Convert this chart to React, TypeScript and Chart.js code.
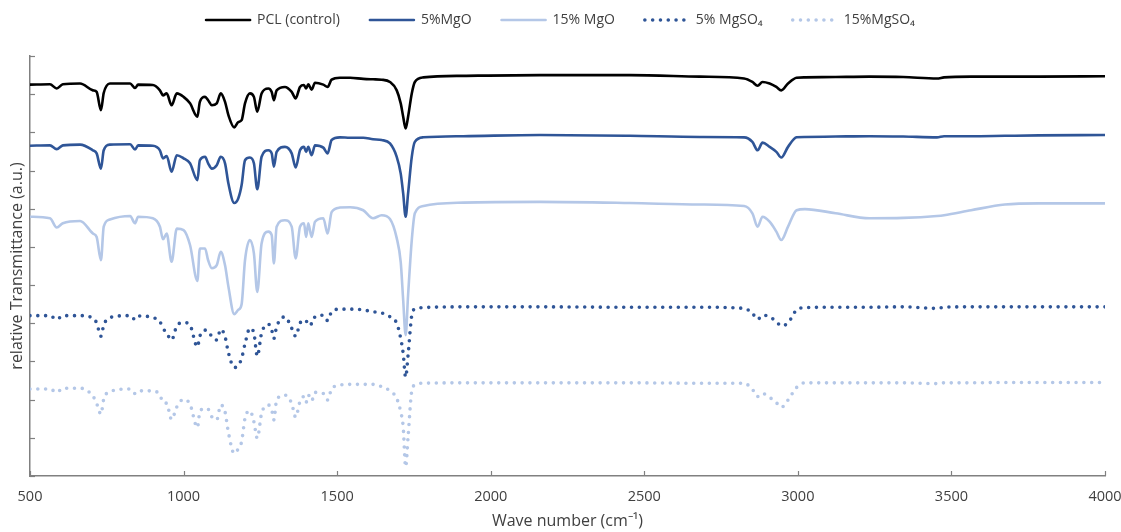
import React, { useEffect, useRef } from 'react';
import { Chart, registerables } from 'chart.js';

Chart.register(...registerables);

// ---- data ----
const WAVENUMBERS = [
  500, 565, 587, 607, 663, 705, 717, 731, 740, 760,
  826, 842, 852, 900, 923, 933, 945, 961, 978, 1000,
  1021, 1045, 1053, 1070, 1080, 1092, 1108, 1121, 1135, 1146,
  1165, 1178, 1189, 1200, 1216, 1229, 1240, 1254, 1276, 1287,
  1294, 1303, 1330, 1352, 1365, 1379, 1392, 1399, 1406, 1417,
  1428, 1455, 1469, 1482, 1509, 1542, 1585, 1617, 1645, 1672,
  1694, 1707, 1715, 1723, 1731, 1743, 1753, 1781, 1911, 2160,
  2453, 2681, 2825, 2852, 2869, 2885, 2908, 2930, 2946, 2968,
  2996, 3023, 3123, 3233, 3343, 3453, 3476, 3564, 3674, 3785,
  4000,
];

const PCL_CONTROL = [
  102.5, 102.6, 101.5, 102.6, 102.8, 101.0, 100.6, 95.8, 100.3, 102.8,
  102.8, 101.6, 102.5, 102.4, 101.0, 99.7, 100.2, 97.1, 100.2, 99.3,
  97.6, 94.1, 98.0, 99.3, 98.4, 97.1, 97.6, 100.2, 98.0, 94.5,
  91.3, 92.7, 93.2, 97.6, 100.2, 99.3, 95.4, 100.2, 101.5, 100.6,
  98.4, 101.0, 101.9, 100.6, 98.9, 101.9, 102.4, 101.5, 102.6, 101.2,
  103.0, 102.5, 101.9, 103.8, 104.3, 104.3, 104.0, 103.9, 103.8, 103.2,
  101.0, 97.6, 94.1, 91.0, 94.1, 100.2, 103.2, 104.4, 104.8, 105.0,
  105.0, 104.6, 104.1, 103.2, 102.2, 103.2, 102.8, 101.9, 101.0, 102.8,
  104.3, 104.4, 104.5, 104.6, 104.5, 104.1, 104.4, 104.6, 104.6, 104.6,
  104.7,
];

const MGO_5 = [
  86.5, 86.6, 85.6, 86.6, 86.8, 85.3, 84.5, 80.5, 85.3, 86.8,
  86.9, 85.5, 86.6, 86.5, 85.3, 83.2, 83.8, 79.7, 84.0, 83.2,
  81.9, 77.5, 82.7, 83.6, 81.9, 80.5, 81.4, 83.6, 81.9, 76.6,
  71.5, 72.7, 76.2, 82.7, 83.4, 81.9, 75.1, 83.6, 85.3, 84.5,
  81.0, 84.9, 86.2, 84.5, 80.8, 85.3, 86.2, 84.9, 86.2, 84.0,
  86.6, 86.0, 84.5, 88.0, 88.7, 88.6, 88.6, 88.2, 88.0, 87.1,
  83.6, 79.2, 74.0, 67.9, 74.0, 83.6, 87.5, 88.7, 89.0, 89.3,
  89.1, 88.8, 88.7, 87.5, 85.3, 87.3, 86.2, 84.9, 83.4, 86.2,
  88.7, 88.8, 88.9, 89.0, 88.9, 88.7, 89.0, 89.0, 89.1, 89.2,
  89.3,
];

const MGO_15 = [
  67.9, 67.5, 65.1, 66.2, 66.8, 63.5, 62.6, 56.5, 65.3, 67.2,
  68.1, 66.2, 67.9, 67.5, 65.3, 62.0, 63.5, 56.1, 64.8, 64.4,
  60.5, 51.1, 59.6, 59.6, 56.5, 54.4, 55.2, 58.7, 55.2, 49.6,
  42.4, 43.5, 45.0, 56.5, 61.8, 58.3, 48.2, 60.9, 64.0, 63.1,
  55.7, 65.3, 67.0, 65.3, 57.0, 65.3, 66.2, 62.6, 66.2, 62.6,
  66.6, 67.5, 63.5, 69.1, 70.3, 70.4, 69.6, 67.5, 68.3, 67.3,
  62.3, 56.0, 46.1, 36.9, 47.4, 61.8, 68.8, 70.7, 71.6, 71.8,
  71.5, 71.1, 70.7, 68.8, 65.3, 67.9, 66.6, 64.0, 61.8, 65.3,
  69.6, 69.9, 68.8, 67.5, 67.6, 68.1, 68.3, 69.6, 71.1, 71.4,
  71.4,
];

const MGSO4_5 = [
  42.0, 42.0, 41.0, 42.0, 42.0, 41.3, 40.1, 36.6, 39.5, 41.5,
  42.0, 41.0, 41.9, 41.5, 40.4, 38.7, 37.4, 35.6, 39.3, 40.2,
  39.5, 33.8, 36.6, 38.2, 38.0, 36.5, 35.6, 38.4, 36.5, 32.3,
  28.4, 29.0, 30.8, 34.6, 38.7, 37.4, 31.4, 37.4, 39.8, 38.2,
  36.0, 39.1, 41.7, 38.7, 36.6, 40.0, 40.8, 40.4, 41.0, 39.8,
  41.7, 42.1, 40.7, 43.0, 43.7, 43.7, 43.5, 43.0, 42.7, 41.7,
  40.0, 36.0, 32.1, 25.9, 31.7, 42.1, 43.7, 44.1, 44.3, 44.3,
  44.2, 44.2, 43.9, 42.6, 41.0, 42.1, 41.7, 40.4, 39.3, 40.1,
  43.5, 44.1, 44.2, 44.2, 44.3, 43.9, 44.2, 44.3, 44.3, 44.3,
  44.3,
];

const MGSO4_15 = [
  22.8, 22.8, 21.9, 23.0, 23.0, 20.9, 19.0, 16.2, 20.1, 22.1,
  22.8, 21.6, 22.3, 22.3, 21.2, 19.3, 19.0, 14.8, 18.1, 20.1,
  18.8, 12.7, 16.8, 17.7, 17.5, 15.5, 14.7, 18.6, 16.8, 11.4,
  5.9, 7.1, 9.0, 15.1, 17.1, 14.2, 9.9, 16.4, 18.6, 17.3,
  14.7, 19.9, 21.2, 19.0, 15.4, 19.5, 20.8, 19.3, 21.2, 19.7,
  21.9, 21.6, 19.9, 22.8, 23.8, 24.0, 24.0, 24.0, 23.4, 22.3,
  20.3, 16.8, 12.9, 2.4, 10.3, 22.3, 23.8, 24.3, 24.4, 24.4,
  24.4, 24.3, 24.3, 22.7, 20.8, 21.6, 20.6, 19.2, 18.0, 19.9,
  23.2, 24.4, 24.4, 24.4, 24.4, 24.2, 24.4, 24.4, 24.5, 24.5,
  24.5,
];

const SERIES_LABELS = ['PCL (control)', '5%MgO', '15% MgO', '5% MgSO\u2084', '15%MgSO\u2084'];
const X_MIN = 500;
const X_MAX = 4000;
const X_STEP = 500;
const Y_MIN = 0;
const Y_MAX = 110;
const Y_STEP = 10;
const X_TITLE = 'Wave number (cm\u207B\u00B9)';
const Y_TITLE = 'relative Transmittance (a.u.)';

// ---- styles ----
const FONT = "'Open Sans', 'Liberation Sans', sans-serif";
const TEXT_COLOR = '#404040';
const AXIS_COLOR = '#808080';
const BLACK = '#000000';
const DARK_BLUE = '#2F5597';
const LIGHT_BLUE = '#B4C7E7';

const insideTicks = {
  id: 'insideTicks',
  afterDraw(chart: any) {
    const { ctx, chartArea, scales } = chart;
    const xs = scales.x;
    const ys = scales.y;
    ctx.save();
    ctx.strokeStyle = AXIS_COLOR;
    ctx.lineWidth = 1.2;
    ys.ticks.forEach((t: any) => {
      const py = Math.round(ys.getPixelForValue(t.value)) + 0.5;
      ctx.beginPath();
      ctx.moveTo(chartArea.left, py);
      ctx.lineTo(chartArea.left + 5, py);
      ctx.stroke();
    });
    xs.ticks.forEach((t: any) => {
      const px = Math.round(xs.getPixelForValue(t.value)) + 0.5;
      ctx.beginPath();
      ctx.moveTo(px, chartArea.bottom);
      ctx.lineTo(px, chartArea.bottom - 5);
      ctx.stroke();
    });
    ctx.restore();
  },
};

const legendSpacer = {
  id: 'legendSpacer',
  beforeInit(chart: any) {
    const legend = chart.legend;
    if (!legend) return;
    const orig = legend.fit;
    legend.fit = function () {
      orig.call(this);
      this.height += 19;
    };
  },
};

function makeDataset(label: string, values: number[], color: string, dotted: boolean, idx: number) {
  return {
    label,
    data: WAVENUMBERS.map((x, i) => ({ x, y: values[i] })),
    borderColor: color,
    backgroundColor: color,
    borderWidth: dotted ? 3.6 : 2.6,
    borderDash: dotted ? [0, 7.8] : [],
    borderCapStyle: 'round',
    borderJoinStyle: 'round',
    pointRadius: 0,
    pointHoverRadius: 0,
    fill: false,
    cubicInterpolationMode: 'monotone',
    order: 10 - idx,
  };
}

export default function App() {
  const canvasRef = useRef<HTMLCanvasElement | null>(null);

  useEffect(() => {
    if (!canvasRef.current) return;
    const datasets = [
      makeDataset(SERIES_LABELS[0], PCL_CONTROL, BLACK, false, 0),
      makeDataset(SERIES_LABELS[1], MGO_5, DARK_BLUE, false, 1),
      makeDataset(SERIES_LABELS[2], MGO_15, LIGHT_BLUE, false, 2),
      makeDataset(SERIES_LABELS[3], MGSO4_5, DARK_BLUE, true, 3),
      makeDataset(SERIES_LABELS[4], MGSO4_15, LIGHT_BLUE, true, 4),
    ];
    const chart = new Chart(canvasRef.current, {
      type: 'line',
      data: { datasets } as any,
      plugins: [insideTicks, legendSpacer],
      options: {
        responsive: false,
        animation: false,
        events: [],
        layout: { padding: { top: -17, right: 0, bottom: 0, left: 0 } },
        plugins: {
          legend: {
            display: true,
            position: 'top',
            align: 'center',
            labels: {
              usePointStyle: true,
              pointStyle: 'line',
              pointStyleWidth: 44,
              padding: 30,
              color: TEXT_COLOR,
              font: { family: FONT, size: 14 },
              sort: (a: any, b: any) => a.datasetIndex - b.datasetIndex,
              generateLabels: (ch: any) => {
                const items = (Chart.defaults.plugins.legend.labels as any).generateLabels(ch);
                return items.map((it: any) => {
                  const ds = ch.data.datasets[it.datasetIndex];
                  return {
                    ...it,
                    lineWidth: ds.borderWidth,
                    lineDash: ds.borderDash,
                    lineCap: 'round',
                    strokeStyle: ds.borderColor,
                    fillStyle: ds.borderColor,
                    pointStyle: 'line',
                  };
                });
              },
            },
          },
          tooltip: { enabled: false },
        },
        scales: {
          x: {
            type: 'linear',
            min: X_MIN,
            max: X_MAX,
            ticks: {
              stepSize: X_STEP,
              padding: 12,
              color: TEXT_COLOR,
              font: { family: FONT, size: 14.5 },
              maxRotation: 0,
              autoSkip: false,
              callback: (v: any) => String(v),
            },
            grid: { display: false, drawTicks: false },
            border: { display: true, color: AXIS_COLOR, width: 1.5 },
            title: {
              display: true,
              text: X_TITLE,
              color: TEXT_COLOR,
              font: { family: FONT, size: 16 },
              padding: { top: 0, bottom: 1 },
            },
            afterFit: (s: any) => {
              s.height = 56;
              s.paddingLeft = 0;
              s.paddingRight = 16;
            },
          },
          y: {
            type: 'linear',
            min: Y_MIN,
            max: Y_MAX,
            ticks: { stepSize: Y_STEP, display: false },
            grid: { display: false, drawTicks: false },
            border: { display: true, color: AXIS_COLOR, width: 1.5 },
            title: {
              display: true,
              text: Y_TITLE,
              color: TEXT_COLOR,
              font: { family: FONT, size: 16 },
              padding: { top: 8, bottom: 0 },
            },
            afterFit: (s: any) => {
              s.width = 30;
            },
          },
        },
      } as any,
    });
    return () => chart.destroy();
  }, []);

  return (
    <div style={{ position: 'fixed', left: 0, top: 0, width: 1121, height: 532, background: '#ffffff' }}>
      <canvas ref={canvasRef} width={1121} height={532} style={{ display: 'block' }} />
    </div>
  );
}
